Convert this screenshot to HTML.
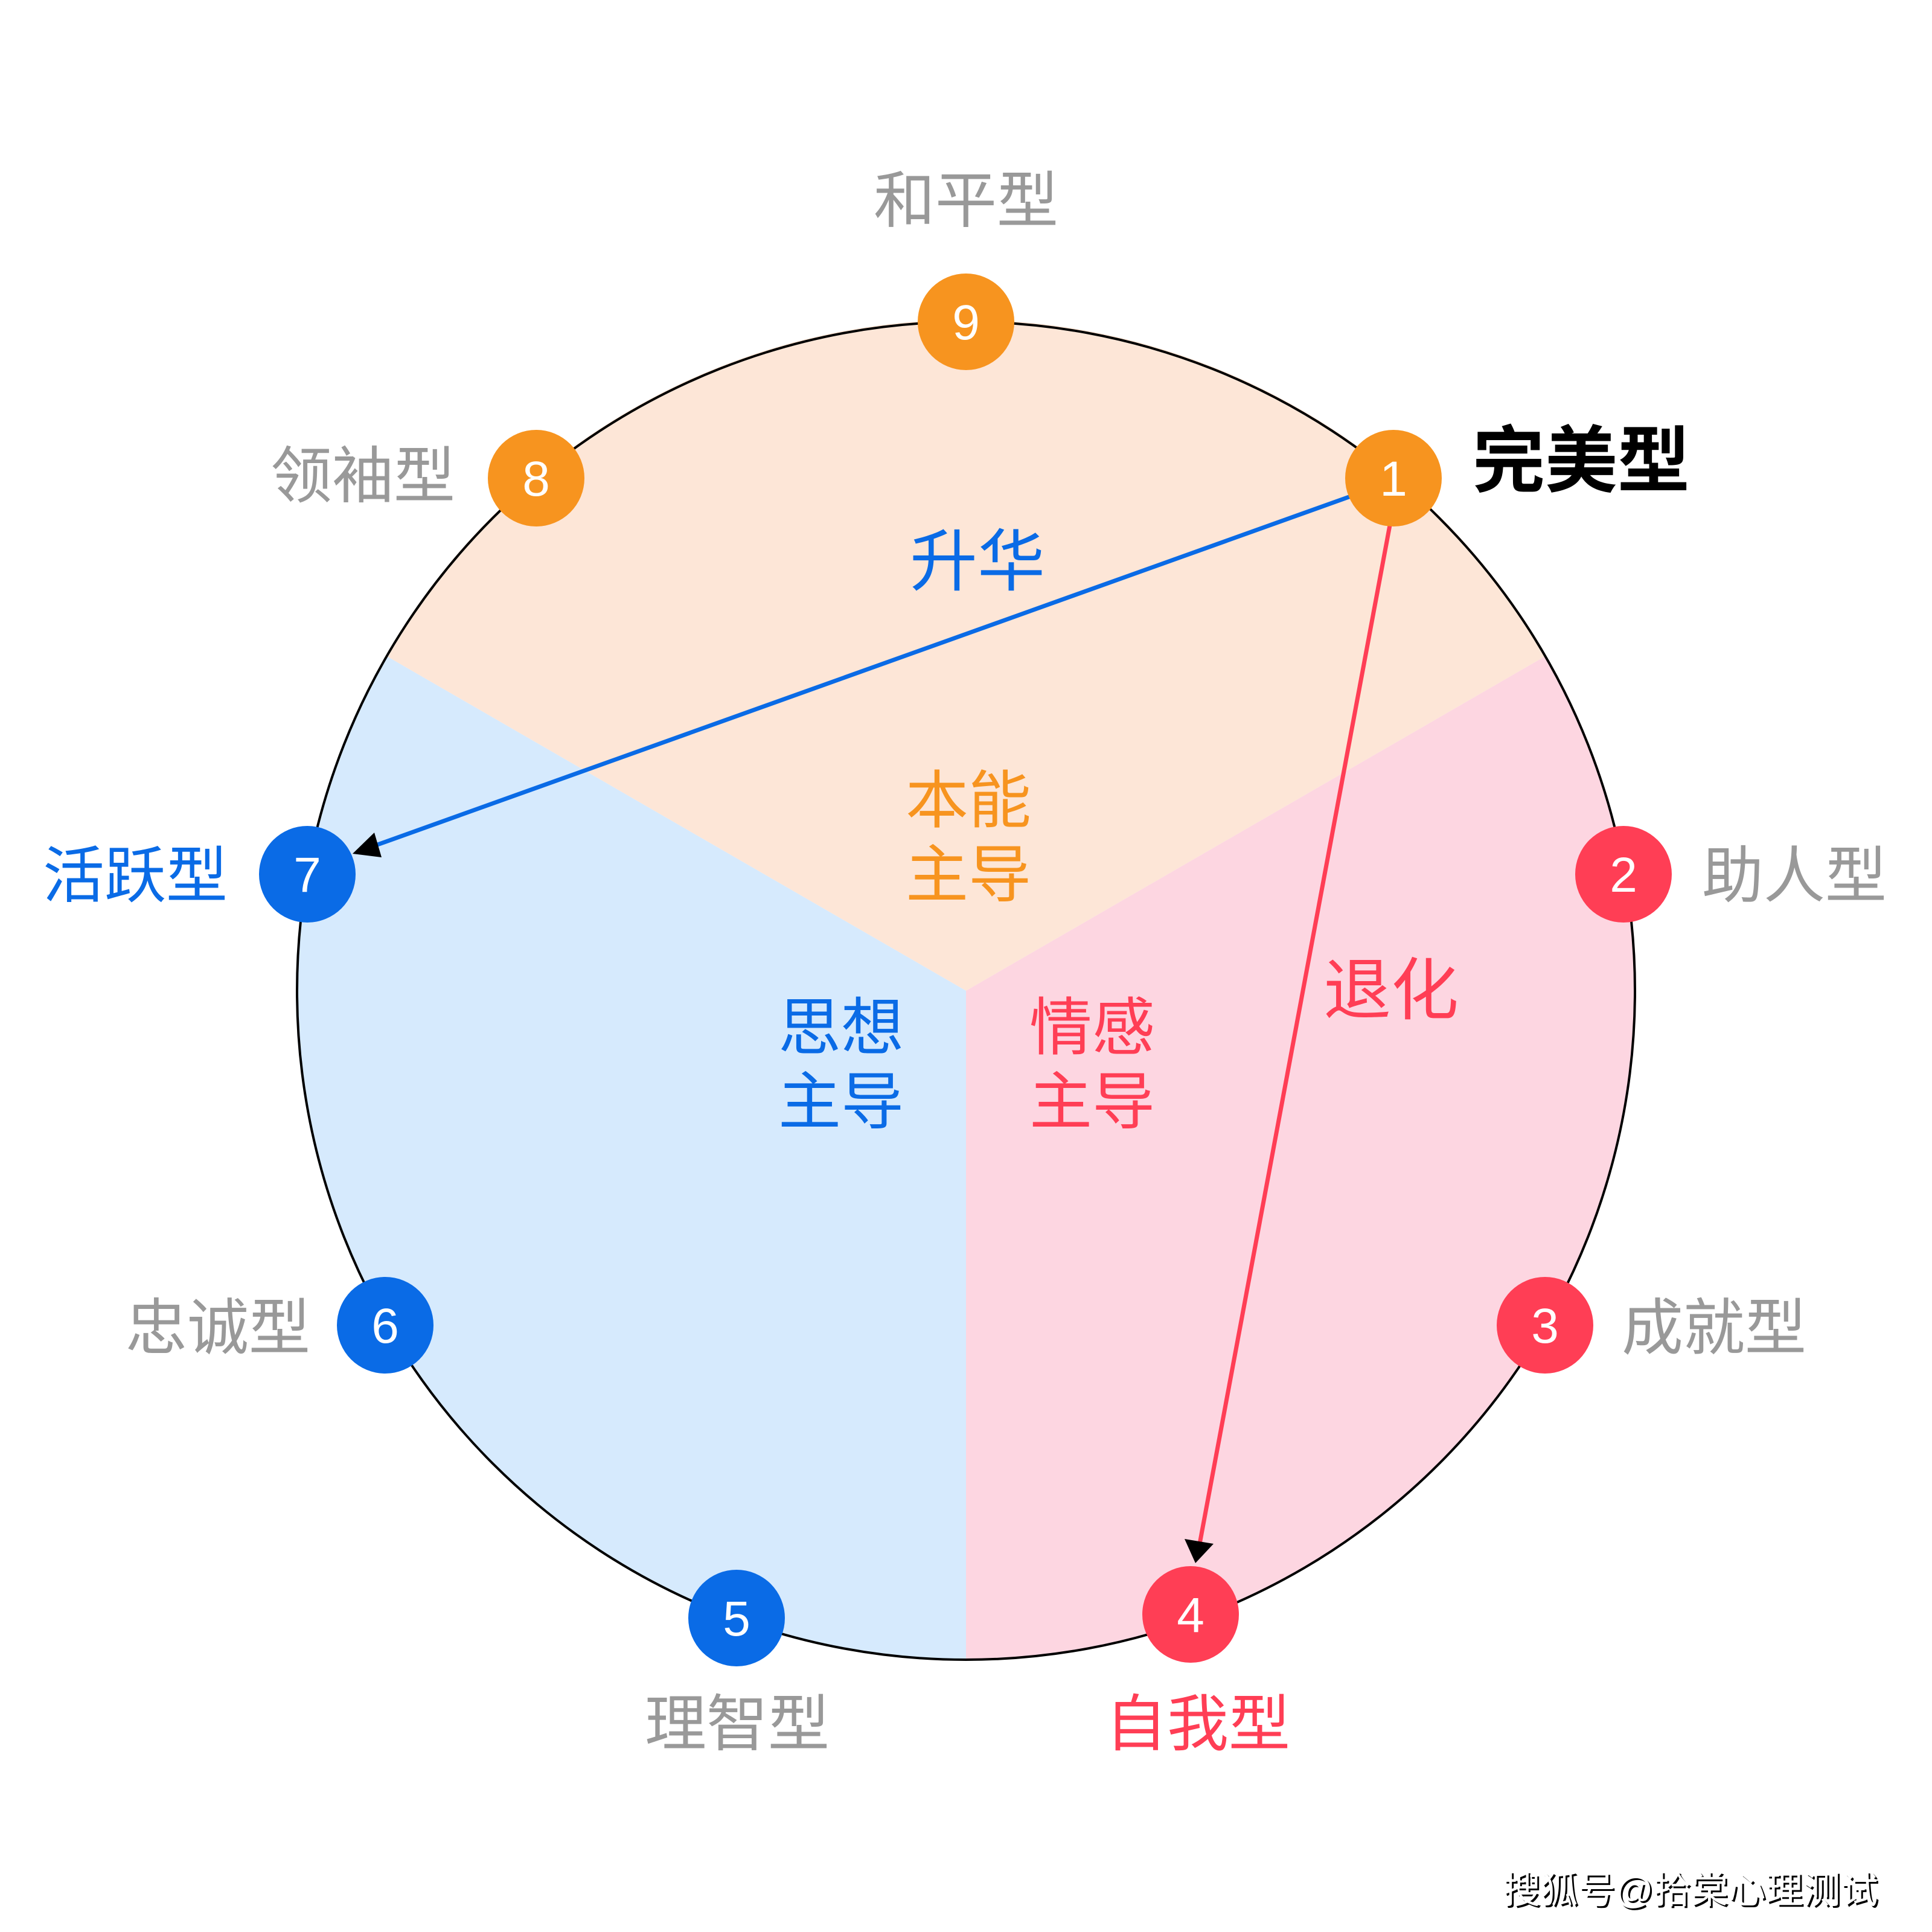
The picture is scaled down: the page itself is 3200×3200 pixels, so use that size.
<!DOCTYPE html>
<html><head><meta charset="utf-8"><style>
html,body{margin:0;padding:0;background:#fff;}
svg{display:block}
text{font-family:"Liberation Sans","Noto Sans CJK SC",sans-serif;}
</style></head><body>
<svg width="3200" height="3200" viewBox="0 0 3200 3200" xmlns="http://www.w3.org/2000/svg">
<g transform="translate(-8,-8)">
<path d="M1608,1649 L647,1094 A1108,1108 0 0 1 2569,1094 Z" fill="#FDE6D7"/>
<path d="M1608,1649 L2569,1094 A1108,1108 0 0 1 1608,2757 Z" fill="#FDD6E1"/>
<path d="M1608,1649 L1608,2757 A1108,1108 0 0 1 647,1094 Z" fill="#D6EAFD"/>
<circle cx="1608" cy="1649" r="1108" fill="none" stroke="#000" stroke-width="4"/>

<line x1="2248" y1="829" x2="625" y2="1410" stroke="#0A6BE6" stroke-width="7"/>
<polygon points="592,1422 628,1387 640,1428" fill="#000"/>
<line x1="2310" y1="878" x2="1995" y2="2565" stroke="#FF3E55" stroke-width="7"/>
<polygon points="1988,2597 1970,2557 2018,2565" fill="#000"/>

<g font-size="82" fill="#fff" text-anchor="middle">
<circle cx="1608" cy="541" r="80" fill="#F7941F"/><text x="1608" y="570" fill="#fff">9</text>
<circle cx="2316" cy="800" r="80" fill="#F7941F"/><text x="2316" y="829" fill="#fff">1</text>
<circle cx="896" cy="800" r="80" fill="#F7941F"/><text x="896" y="829" fill="#fff">8</text>
<circle cx="2697" cy="1456" r="80" fill="#FF3E55"/><text x="2697" y="1485" fill="#fff">2</text>
<circle cx="2567" cy="2203" r="80" fill="#FF3E55"/><text x="2567" y="2232" fill="#fff">3</text>
<circle cx="1980" cy="2682" r="80" fill="#FF3E55"/><text x="1980" y="2711" fill="#fff">4</text>
<circle cx="1228" cy="2688" r="80" fill="#0A6BE6"/><text x="1228" y="2717" fill="#fff">5</text>
<circle cx="646" cy="2203" r="80" fill="#0A6BE6"/><text x="646" y="2232" fill="#fff">6</text>
<circle cx="517" cy="1456" r="80" fill="#0A6BE6"/><text x="517" y="1485" fill="#fff">7</text>
</g>

<g font-size="102" text-anchor="middle" fill="#999">
<text x="1608" y="376">和平型</text>
<text x="609" y="832">领袖型</text>
<text x="369" y="2243">忠诚型</text>
<text x="1229" y="2899">理智型</text>
<text x="2847" y="2243">成就型</text>
<text x="2980" y="1494">助人型</text>
<text x="232" y="1494" fill="#0A6BE6">活跃型</text>
<text x="1992" y="2899" fill="#FF3E55">自我型</text>
<text x="2627" y="813" font-size="120" font-weight="bold" fill="#000">完美型</text>
</g>

<g font-size="104" text-anchor="middle">
<text x="1612" y="1370" fill="#F7941F">本能</text>
<text x="1612" y="1493" fill="#F7941F">主导</text>
<text x="1401" y="1746" fill="#0A6BE6">思想</text>
<text x="1401" y="1869" fill="#0A6BE6">主导</text>
<text x="1817" y="1746" fill="#FF3E55">情感</text>
<text x="1817" y="1869" fill="#FF3E55">主导</text>
<text x="1627" y="977" font-size="112" fill="#0A6BE6">升华</text>
<text x="2312" y="1687" font-size="112" fill="#FF3E55">退化</text>
</g>
</g>

<g font-size="62" text-anchor="middle">
<text x="2803" y="3155" fill="#000">搜狐号@拾棠心理测试</text>
<text x="2800" y="3152" fill="#fff">搜狐号@拾棠心理测试</text>
</g>
</svg>
</body></html>
